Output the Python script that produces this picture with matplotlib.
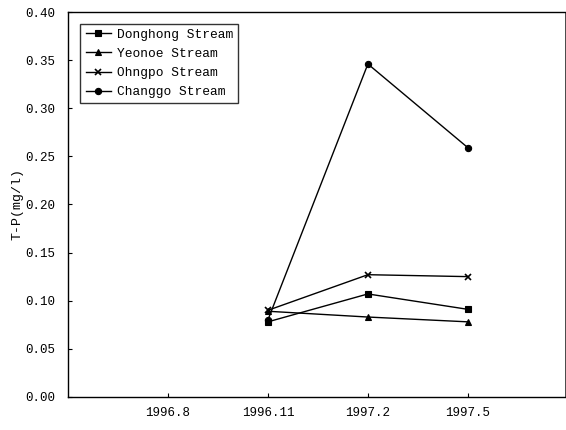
import matplotlib
matplotlib.use("Agg")
import matplotlib.pyplot as plt

# data
months = ["1996.8", "1996.11", "1997.2", "1997.5"]
x_pos = [1, 2, 3, 4]
donghong = [None, 0.078, 0.107, 0.091]
yeonoe = [None, 0.089, 0.083, 0.078]
ohngpo = [None, 0.090, 0.127, 0.125]
changgo = [None, 0.080, 0.346, 0.259]

series = [
    ("Donghong Stream", donghong, "s"),
    ("Yeonoe Stream", yeonoe, "^"),
    ("Ohngpo Stream", ohngpo, "x"),
    ("Changgo Stream", changgo, "o"),
]

plt.rcParams['font.family'] = ['Liberation Mono', 'DejaVu Sans']

fig = plt.figure(figsize=(5.66, 4.30), dpi=100)
ax = fig.add_axes([0.120, 0.077, 0.878, 0.895])

for name, vals, mk in series:
    xs = [x for x, v in zip(x_pos, vals) if v is not None]
    ys = [v for v in vals if v is not None]
    ax.plot(xs, ys, color='black', lw=1.0, marker=mk, markersize=4.5,
            markeredgewidth=1.2 if mk == 'x' else 0.8, label=name)

ax.set_xlim(0, 4.97)
ax.set_ylim(0, 0.40)
ax.set_xticks(x_pos)
ax.set_xticklabels(months)
ax.set_yticks([i * 0.05 for i in range(9)])
ax.set_yticklabels([f"{i * 0.05:.2f}" for i in range(9)])
ax.tick_params(direction='in', length=3, labelsize=9, width=0.8)
ax.tick_params(axis='y', pad=9)
ax.tick_params(axis='x', pad=7)
for sp in ax.spines.values():
    sp.set_linewidth(1.0)
ax.spines['right'].set_linewidth(0.5)

ax.set_ylabel("T-P(mg/l)", fontsize=9.5)
ax.yaxis.set_label_coords(-0.09, 0.5)

leg = ax.legend(loc='upper left', bbox_to_anchor=(0.025, 0.97), fontsize=9.3,
                frameon=True, fancybox=False, edgecolor='black',
                handlelength=2.0, handletextpad=0.4, borderpad=0.4,
                labelspacing=0.55, borderaxespad=0)
leg.get_frame().set_linewidth(1.0)

fig.savefig("out.png", dpi=100)
